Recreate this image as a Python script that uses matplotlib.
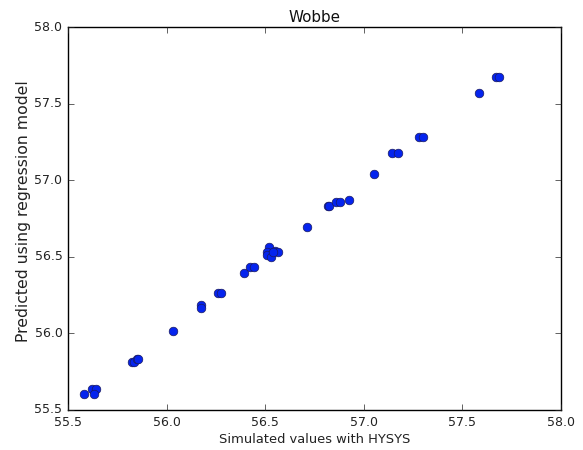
import matplotlib
matplotlib.use("Agg")
import matplotlib.pyplot as plt

# simulated (HYSYS) vs predicted Wobbe index values
simulated = [55.58, 55.623, 55.643, 55.633, 55.823, 55.835, 55.848, 55.856,
             56.032, 56.173, 56.173, 56.262, 56.274, 56.394, 56.423, 56.443,
             56.521, 56.511, 56.511, 56.531, 56.551, 56.566, 56.541, 56.714,
             56.817, 56.823, 56.862, 56.882, 56.923, 57.052, 57.145, 57.172,
             57.281, 57.301, 57.584, 57.673, 57.685]
predicted = [55.606, 55.635, 55.635, 55.606, 55.811, 55.811, 55.836, 55.836,
             56.018, 56.185, 56.164, 56.262, 56.262, 56.392, 56.435, 56.435,
             56.562, 56.529, 56.514, 56.497, 56.538, 56.529, 56.529, 56.697,
             56.830, 56.830, 56.856, 56.856, 56.871, 57.039, 57.178, 57.178,
             57.280, 57.280, 57.567, 57.672, 57.672]
ticks = [55.5, 56.0, 56.5, 57.0, 57.5, 58.0]

plt.style.use("classic")
fig = plt.figure(figsize=(5.83, 4.5), dpi=100, facecolor="white")
ax = fig.add_axes([0.1166, 0.0889, 0.8454, 0.8511])

ax.plot(simulated, predicted, "o", color="#0524ee", markeredgecolor="#1a1a60",
        markeredgewidth=0.5, markersize=6.2)

ax.set_xlim(55.5, 58.0)
ax.set_ylim(55.5, 58.0)
ax.set_xticks(ticks)
ax.set_yticks(ticks)
ax.tick_params(labelsize=9, colors="#222222")
for lab in ax.get_xticklabels() + ax.get_yticklabels():
    lab.set_color("#222222")

ax.set_title("Wobbe", fontsize=10.9, y=1.026, va="center", pad=0, color="#111111")
ax.set_xlabel("Simulated values with HYSYS", fontsize=9.4, color="#222222")
ax.set_ylabel("Predicted using regression model", fontsize=11.3, color="#222222")
ax.xaxis.set_label_coords(0.5, -0.078)
ax.xaxis.label.set_va("center")
ax.yaxis.set_label_coords(-0.091, 0.52)
ax.yaxis.label.set_va("center")

fig.savefig("out.png", dpi=100, facecolor="white")
